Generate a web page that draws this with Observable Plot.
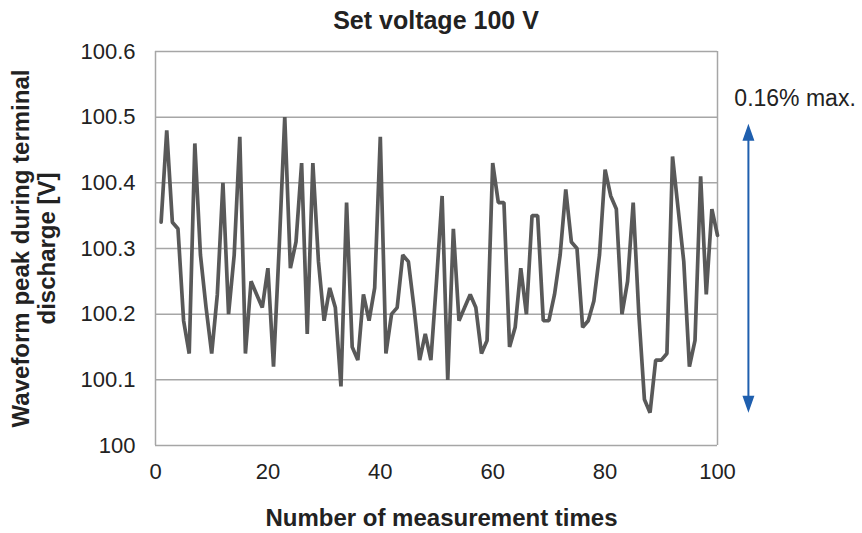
<!DOCTYPE html>
<html>
<head>
<meta charset="utf-8">
<script src="https://cdn.jsdelivr.net/npm/d3@7"></script>
<script src="https://cdn.jsdelivr.net/npm/@observablehq/plot@0.6"></script>
<style>
  body { margin: 0; background: #fff; font-family: "Liberation Sans", Arial, sans-serif; }
  #title { width: 852px; padding-left: 10px; height: 40px; line-height: 40px; text-align: center;
           font-weight: bold; font-size: 25px; color: #222; }
</style>
</head>
<body>
<div id="title"></div>
<div id="chart"></div>
<script>
const chartTitle = "Set voltage 100 V";
const xLabel = "Number of measurement times";
const yLabel = "Waveform peak during terminal\ndischarge [V]";
const annotationText = "0.16% max.";

// Waveform peak for each measurement (1..100)
const peaks = [
  100.34, 100.48, 100.34, 100.33, 100.19, 100.14, 100.46, 100.29, 100.21, 100.14,
  100.23, 100.40, 100.20, 100.29, 100.47, 100.14, 100.25, 100.23, 100.21, 100.27,
  100.12, 100.30, 100.50, 100.27, 100.31, 100.43, 100.17, 100.43, 100.28, 100.19,
  100.24, 100.21, 100.09, 100.37, 100.15, 100.13, 100.23, 100.19, 100.24, 100.47,
  100.14, 100.20, 100.21, 100.29, 100.28, 100.21, 100.13, 100.17, 100.13, 100.25,
  100.38, 100.10, 100.33, 100.19, 100.21, 100.23, 100.21, 100.14, 100.16, 100.43,
  100.37, 100.37, 100.15, 100.18, 100.27, 100.20, 100.35, 100.35, 100.19, 100.19,
  100.23, 100.29, 100.39, 100.31, 100.30, 100.18, 100.19, 100.22, 100.29, 100.42,
  100.38, 100.36, 100.20, 100.25, 100.37, 100.20, 100.07, 100.05, 100.13, 100.13,
  100.14, 100.44, 100.36, 100.28, 100.12, 100.16, 100.41, 100.23, 100.36, 100.32
];
const times = peaks.map((_, i) => i + 1);
const xTicks = [0, 20, 40, 60, 80, 100];
const yTicks = [100, 100.1, 100.2, 100.3, 100.4, 100.5, 100.6];

// Annotation arrow (data units)
const arrowX = 105.5;
const arrowRange = [100.05, 100.49];
const annotationPos = [103.0, 100.528];

document.getElementById("title").textContent = chartTitle;

const data = times.map((t, i) => ({t, v: peaks[i]}));

const upHead = { draw(ctx) { ctx.moveTo(0, 0); ctx.lineTo(6, 17); ctx.lineTo(-6, 17); ctx.closePath(); } };
const downHead = { draw(ctx) { ctx.moveTo(0, 0); ctx.lineTo(6, -17); ctx.lineTo(-6, -17); ctx.closePath(); } };

const arrowBlue = "#1f5fae";

const chart = Plot.plot({
  width: 862,
  height: 493,
  marginTop: 11,
  marginBottom: 88,
  marginLeft: 155,
  marginRight: 145,
  style: { fontFamily: "Liberation Sans, Arial, sans-serif", fontSize: "23px", color: "#222", background: "#fff" },
  x: { domain: [0, 100], label: null },
  y: { domain: [100, 100.6], label: null },
  marks: [
    Plot.gridY(yTicks, { stroke: "#a6a6a6", strokeOpacity: 1, strokeWidth: 1.5 }),
    Plot.ruleX([0, 100], { stroke: "#a6a6a6", strokeWidth: 1.5 }),
    Plot.axisY(yTicks, { tickSize: 0, tickPadding: 20, fontSize: 22,
      tickFormat: d => d === 100 ? "100" : d.toFixed(1), label: null }),
    Plot.axisX(xTicks, { tickSize: 0, tickPadding: 18, fontSize: 22, label: null }),
    Plot.line(data, { x: "t", y: "v", stroke: "#595959", strokeWidth: 3.7, strokeLinejoin: "miter" }),
    Plot.ruleX([arrowX], { y1: arrowRange[0] + 0.01, y2: arrowRange[1] - 0.01, stroke: arrowBlue, strokeWidth: 2 }),
    Plot.dot([[arrowX, arrowRange[1]]], { x: d => d[0], y: d => d[1], symbol: upHead, fill: arrowBlue, stroke: "none" }),
    Plot.dot([[arrowX, arrowRange[0]]], { x: d => d[0], y: d => d[1], symbol: downHead, fill: arrowBlue, stroke: "none" }),
    Plot.text([annotationText], { x: annotationPos[0], y: annotationPos[1], text: d => d,
      textAnchor: "start", fontSize: 23, fill: "#222" }),
    Plot.text([yLabel], { frameAnchor: "left", dx: -122, rotate: -90, text: d => d, textAnchor: "middle",
      fontWeight: "bold", fontSize: 24, lineHeight: 1.1, fill: "#222" }),
    Plot.text([xLabel], { frameAnchor: "bottom", dx: 5, dy: 80, text: d => d, textAnchor: "middle",
      fontWeight: "bold", fontSize: 24, fill: "#222" })
  ]
});
document.getElementById("chart").appendChild(chart);
</script>
</body>
</html>
